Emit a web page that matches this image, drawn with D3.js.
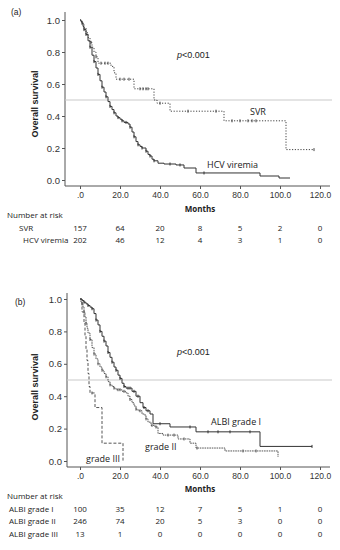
<!DOCTYPE html>
<html>
<head>
<meta charset="utf-8">
<script src="https://cdn.jsdelivr.net/npm/d3@7"></script>
<style>
  body { margin: 0; background: #fff; }
  svg { display: block; }
  .tick text { font-family: "Liberation Sans", Arial, sans-serif; fill: #333; }
  .tick line { stroke: #555; }
</style>
</head>
<body>
<svg id="chart" width="340" height="550"></svg>
<script>
// ---- data ----
const xTicks = [0, 20, 40, 60, 80, 100, 120];
const xTickLabels = ['.0', '20.0', '40.0', '60.0', '80.0', '100.0', '120.0'];
const yTicks = [0, 0.2, 0.4, 0.6, 0.8, 1.0];
const yTickLabels = ['0.0', '0.2', '0.4', '0.6', '0.8', '1.0'];

// panel (a): [month, survival] at each step
const svrSteps = [[0, 1], [1, 0.98], [2, 0.95], [3, 0.92], [4, 0.89], [5, 0.86], [6, 0.83],
  [7, 0.8], [8, 0.77], [9, 0.73], [15.5, 0.71], [17, 0.67], [18, 0.63], [27, 0.57],
  [37, 0.5], [38.5, 0.48], [45, 0.43], [72, 0.37], [103, 0.19]];
const svrEnd = 117;
const svrCensored = [5.5, 8, 10.5, 12.5, 14, 20, 22, 24.5, 30, 31.5, 33, 34, 40, 54, 68,
  76, 80, 84, 86, 88, 117];

const hcvSteps = [[0, 1], [0.5, 0.99], [1, 0.98], [1.5, 0.96], [2, 0.94], [3, 0.91], [4, 0.87],
  [5, 0.83], [6, 0.78], [7, 0.74], [8, 0.7], [9, 0.66], [10, 0.62], [11, 0.58], [12, 0.55],
  [13, 0.52], [14, 0.49], [15, 0.46], [16, 0.44], [17, 0.42], [18, 0.4], [19, 0.39],
  [20, 0.38], [21, 0.37], [22, 0.36], [24, 0.35], [25, 0.33], [26, 0.3], [27, 0.27],
  [28, 0.24], [29, 0.22], [30, 0.21], [31, 0.2], [33, 0.18], [34, 0.16], [35, 0.15],
  [36, 0.13], [37, 0.12], [39, 0.105], [42, 0.1], [48, 0.094], [52, 0.075], [58, 0.044],
  [90, 0.025], [99.5, 0.0125]];
const hcvEnd = 105;
const hcvCensored = [1, 2, 3, 5, 7, 9, 11, 13, 15, 17, 19, 21, 23, 25, 27, 29, 31, 33, 35,
  37, 45, 50, 62];

const riskLabelsA = ['SVR', 'HCV viremia'];
const riskSvr = [157, 64, 20, 8, 5, 2, 0];
const riskHcv = [202, 46, 12, 4, 3, 1, 0];

// panel (b)
const grade1Steps = [[0, 1], [1, 0.99], [2, 0.98], [3, 0.97], [4, 0.96], [5, 0.95], [6, 0.94],
  [7, 0.91], [8, 0.87], [9, 0.84], [10, 0.8], [11, 0.77], [12, 0.74], [13, 0.71], [14, 0.67],
  [15, 0.64], [16, 0.61], [17, 0.58], [18, 0.56], [19, 0.53], [20, 0.51], [21, 0.48],
  [22, 0.46], [23, 0.45], [26, 0.43], [28, 0.4], [30, 0.36], [31.5, 0.33], [33, 0.31],
  [35, 0.29], [36.5, 0.23], [45, 0.21], [58, 0.18], [90, 0.09]];
const grade1End = 116;
const grade1Censored = [2, 4, 6, 8, 10, 12, 14, 16, 18, 20, 22, 24, 25, 27, 29, 32, 34, 40,
  55, 64, 69, 75, 85, 116];

const grade2Steps = [[0, 1], [0.5, 0.98], [1, 0.97], [1.5, 0.95], [2, 0.92], [2.5, 0.89],
  [3, 0.85], [3.5, 0.82], [4, 0.79], [5, 0.75], [6, 0.7], [7, 0.66], [8, 0.63], [9, 0.6],
  [10, 0.58], [11, 0.56], [12, 0.54], [13, 0.52], [14, 0.49], [15, 0.47], [16, 0.46],
  [17, 0.45], [18, 0.44], [21, 0.43], [23, 0.42], [24, 0.4], [25, 0.38], [26, 0.36],
  [27, 0.34], [28, 0.32], [29, 0.31], [31, 0.29], [32.5, 0.28], [33, 0.26], [34, 0.24],
  [35.5, 0.22], [37.5, 0.21], [39, 0.17], [41.5, 0.16], [49, 0.136], [55, 0.11], [58, 0.08],
  [72.5, 0.062], [99, 0.025]];
const grade2End = 99;
const grade2Censored = [1, 2, 3, 5, 7, 9, 11, 13, 15, 17, 19, 20, 22, 25, 28, 30, 33, 36, 38,
  44, 47, 52, 58.5, 81.5, 88];

const grade3Steps = [[0, 1], [1, 0.92], [2, 0.85], [2.5, 0.77], [3, 0.69], [3.5, 0.62],
  [4, 0.54], [4.5, 0.46], [5, 0.42], [7.5, 0.33], [11, 0.11], [21.5, 0]];
const grade3End = 21.5;
const grade3Censored = [6];

const riskLabelsB = ['ALBI grade I', 'ALBI grade II', 'ALBI grade III'];
const riskGrade1 = [100, 35, 12, 7, 5, 1, 0];
const riskGrade2 = [246, 74, 20, 5, 3, 0, 0];
const riskGrade3 = [13, 1, 0, 0, 0, 0, 0];

// ---- drawing ----
const svg = d3.select('#chart');
const x = d3.scaleLinear().domain([0, 120]).range([80, 320]);
const sans = '"Open Sans", "Noto Sans", sans-serif';
const arial = '"Liberation Sans", Arial, sans-serif';

// survival value at time t for a step series
function survivalAt(steps, t) {
  const i = d3.bisector(d => d[0]).right(steps, t) - 1;
  return steps[Math.max(0, i)][1];
}

function drawPanel(p) {
  const g = svg.append('g');
  const y = d3.scaleLinear().domain([0, 1]).range([p.y0, p.y1]);

  // y axis
  const yAxis = d3.axisLeft(y)
    .tickValues(yTicks)
    .tickFormat((d, i) => yTickLabels[i])
    .tickSize(3)
    .tickPadding(2);
  const ya = g.append('g')
    .attr('transform', `translate(${p.axisX}, 0)`)
    .call(yAxis);
  ya.select('.domain').remove();
  ya.selectAll('text').attr('font-size', 9.5);

  // x axis
  const xAxis = d3.axisBottom(x)
    .tickValues(xTicks)
    .tickFormat((d, i) => xTickLabels[i])
    .tickSize(3)
    .tickPadding(3);
  const xa = g.append('g')
    .attr('transform', `translate(0, ${p.axisY})`)
    .call(xAxis);
  xa.select('.domain').remove();
  xa.selectAll('text').attr('font-size', 8.5).attr('font-family', sans);

  // axis lines
  g.append('line')
    .attr('x1', p.axisX).attr('x2', p.axisX)
    .attr('y1', p.axisTop).attr('y2', p.axisY)
    .attr('stroke', '#555');
  g.append('line')
    .attr('x1', p.axisX).attr('x2', 330)
    .attr('y1', p.axisY).attr('y2', p.axisY)
    .attr('stroke', '#555');

  // median reference line
  g.append('line')
    .attr('x1', p.axisX).attr('x2', 332)
    .attr('y1', y(0.5)).attr('y2', y(0.5))
    .attr('stroke', '#c9c9c9')
    .attr('stroke-width', 1);

  // survival curves
  const line = d3.line()
    .curve(d3.curveStepAfter)
    .x(d => x(d[0]))
    .y(d => y(d[1]));

  p.series.forEach((s) => {
    const pts = s.steps.concat([[s.end, s.steps[s.steps.length - 1][1]]]);
    g.append('path')
      .attr('d', line(pts))
      .attr('fill', 'none')
      .attr('stroke', s.color)
      .attr('stroke-width', 1)
      .attr('stroke-dasharray', s.dash || null);

    g.selectAll(null)
      .data(s.censored)
      .enter()
      .append('line')
        .attr('x1', d => x(d)).attr('x2', d => x(d))
        .attr('y1', d => y(survivalAt(s.steps, d)) - 1.5)
        .attr('y2', d => y(survivalAt(s.steps, d)) + 1.5)
        .attr('stroke', s.color)
        .attr('stroke-width', 1);
  });

  // curve labels
  p.labels.forEach((l) => {
    g.append('text')
      .attr('x', l.x).attr('y', l.y)
      .attr('font-family', sans)
      .attr('font-size', 9)
      .attr('fill', '#222')
      .text(l.text);
  });

  // p value
  const pt = g.append('text')
    .attr('x', 177).attr('y', p.pY)
    .attr('font-family', arial)
    .attr('font-size', 9)
    .attr('fill', '#222');
  pt.append('tspan').attr('font-style', 'italic').text('p');
  pt.append('tspan').text('<0.001');

  // panel letter
  g.append('text')
    .attr('x', p.letterX).attr('y', p.letterY)
    .attr('font-family', arial)
    .attr('font-size', 8.5)
    .attr('fill', '#222')
    .text(p.letter);

  // y axis title
  g.append('text')
    .attr('transform', `translate(38, ${p.titleY}) rotate(-90)`)
    .attr('text-anchor', 'middle')
    .attr('font-family', arial)
    .attr('font-weight', 'bold')
    .attr('font-size', 9)
    .attr('fill', '#222')
    .text('Overall survival');

  // x axis title
  g.append('text')
    .attr('x', 200).attr('y', p.monthsY)
    .attr('text-anchor', 'middle')
    .attr('font-family', sans)
    .attr('font-weight', 'bold')
    .attr('font-size', 8)
    .attr('fill', '#222')
    .text('Months');

  // number at risk table
  g.append('text')
    .attr('x', 7).attr('y', p.riskY)
    .attr('font-family', sans)
    .attr('font-size', 8)
    .attr('fill', '#222')
    .text('Number at risk');

  p.risk.forEach((r, i) => {
    const rowY = p.riskY + 13 + i * 12.3;
    g.append('text')
      .attr('x', r.x).attr('y', rowY)
      .attr('font-family', sans)
      .attr('font-size', 8)
      .attr('fill', '#222')
      .text(r.label);
    g.selectAll(null)
      .data(r.values)
      .enter()
      .append('text')
        .attr('x', (d, j) => x(xTicks[j]))
        .attr('y', rowY)
        .attr('text-anchor', 'middle')
        .attr('font-family', sans)
        .attr('font-size', 8)
        .attr('fill', '#222')
        .text(d => d);
  });
}

drawPanel({
  y0: 180, y1: 20, axisX: 65, axisY: 186, axisTop: 12,
  letter: '(a)', letterX: 11, letterY: 15, pY: 58, titleY: 104,
  monthsY: 212, riskY: 218,
  series: [
    { steps: svrSteps, end: svrEnd, censored: svrCensored, color: '#444', dash: '1.2,1.6' },
    { steps: hcvSteps, end: hcvEnd, censored: hcvCensored, color: '#333' }
  ],
  labels: [
    { text: 'SVR', x: 250, y: 115 },
    { text: 'HCV viremia', x: 207, y: 168 }
  ],
  risk: [
    { label: riskLabelsA[0], x: 19, values: riskSvr },
    { label: riskLabelsA[1], x: 23, values: riskHcv }
  ]
});

drawPanel({
  y0: 461, y1: 299, axisX: 67, axisY: 467, axisTop: 293,
  letter: '(b)', letterX: 15, letterY: 305, pY: 355, titleY: 387,
  monthsY: 492, riskY: 499,
  series: [
    { steps: grade3Steps, end: grade3End, censored: grade3Censored, color: '#555', dash: '3,1.8' },
    { steps: grade2Steps, end: grade2End, censored: grade2Censored, color: '#555', dash: '1.6,0.8' },
    { steps: grade1Steps, end: grade1End, censored: grade1Censored, color: '#333' }
  ],
  labels: [
    { text: 'ALBI grade I', x: 211, y: 425 },
    { text: 'grade II', x: 145, y: 450 },
    { text: 'grade III', x: 86, y: 462 }
  ],
  risk: [
    { label: riskLabelsB[0], x: 9, values: riskGrade1 },
    { label: riskLabelsB[1], x: 9, values: riskGrade2 },
    { label: riskLabelsB[2], x: 9, values: riskGrade3 }
  ]
});
</script>
</body>
</html>
